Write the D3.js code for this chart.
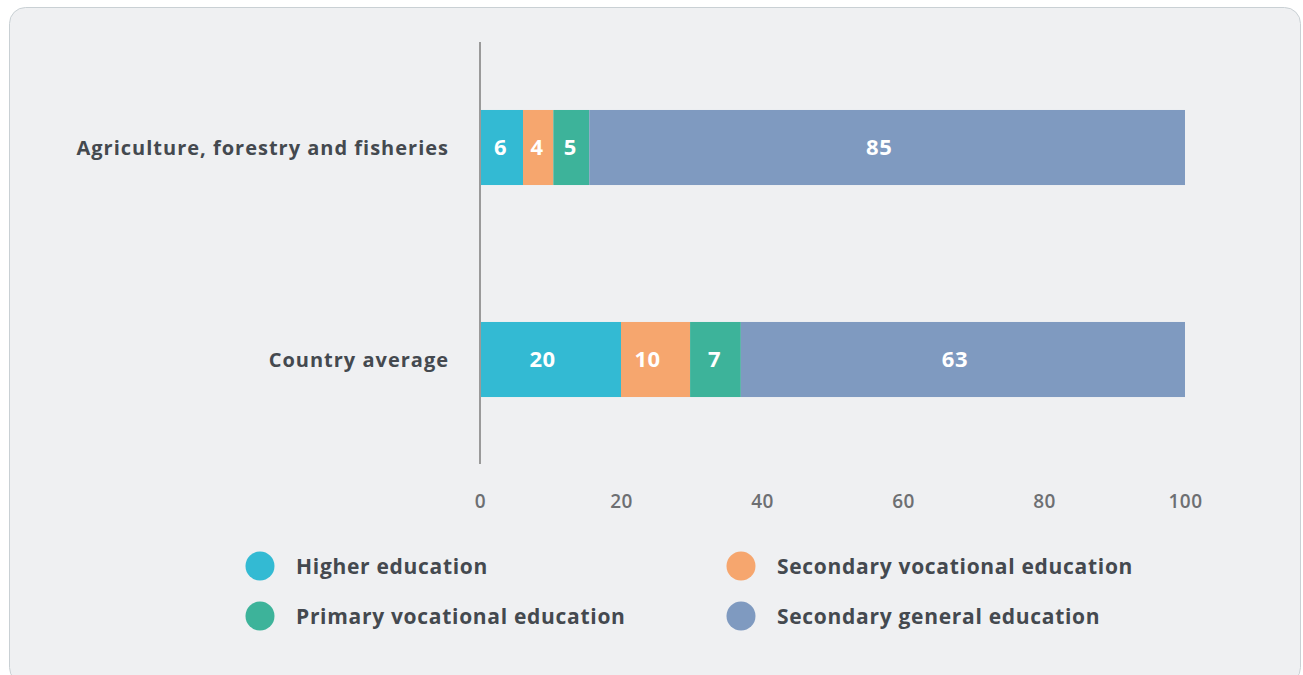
<!DOCTYPE html>
<html>
<head>
<meta charset="utf-8">
<script src="https://cdn.jsdelivr.net/npm/d3@7"></script>
<style>
  body { margin: 0; background: #ffffff; }
  svg text { font-family: "Open Sans", "DejaVu Sans", sans-serif; }
</style>
</head>
<body>
<svg id="chart" width="1303" height="675"></svg>
<script>
// data
var categories = ['Agriculture, forestry and fisheries', 'Country average'];
var seriesNames = ['Higher education', 'Secondary vocational education', 'Primary vocational education', 'Secondary general education'];
var higherEd = [6.1, 20];
var secVocational = [4.3, 9.8];
var primVocational = [5.1, 7.2];
var secGeneral = [84.5, 63];
var tickValues = [0, 20, 40, 60, 80, 100];
var colors = ['#33bad3', '#f6a66e', '#3db39a', '#7f9ac0'];

var svg = d3.select('#chart');

// card background
svg.append('rect')
    .attr('x', 9.5).attr('y', 7.5)
    .attr('width', 1291).attr('height', 676)
    .attr('rx', 16)
    .style('fill', '#eff0f2')
    .style('stroke', '#c9d0d4')
    .style('stroke-width', 1);

var x = d3.scaleLinear().domain([0, 100]).range([480, 1185]);
var y = d3.scaleBand().domain(categories).range([41.5, 465.5]).paddingInner(0.646).paddingOuter(0.323);

var rows = categories.map(function (c, i) {
    return { cat: c, s0: higherEd[i], s1: secVocational[i], s2: primVocational[i], s3: secGeneral[i] };
});
var stack = d3.stack().keys(['s0', 's1', 's2', 's3'])(rows);

var layers = svg.selectAll('g.layer')
    .data(stack)
    .enter()
    .append('g')
    .attr('class', 'layer')
    .style('fill', function (d, i) { return colors[i]; });

layers.selectAll('rect')
    .data(function (d) { return d; })
    .enter()
    .append('rect')
    .attr('x', function (d) { return x(d[0]); })
    .attr('y', function (d) { return y(d.data.cat); })
    .attr('width', function (d) { return x(d[1]) - x(d[0]); })
    .attr('height', y.bandwidth());

// value labels sit a little left of centre on the wider segments
layers.selectAll('text')
    .data(function (d) { return d; })
    .enter()
    .append('text')
    .attr('x', function (d) {
        var w = x(d[1]) - x(d[0]);
        return (x(d[0]) + x(d[1])) / 2 - (w > 60 ? 8 : 1);
    })
    .attr('y', function (d) { return y(d.data.cat) + y.bandwidth() / 2; })
    .attr('dy', '0.36em')
    .attr('text-anchor', 'middle')
    .style('fill', '#ffffff')
    .style('font-size', '22px')
    .style('font-weight', 700)
    .style('letter-spacing', '0.5px')
    .text(function (d) { return Math.round(d[1] - d[0]); });

// vertical axis line
svg.append('line')
    .attr('x1', x(0)).attr('x2', x(0))
    .attr('y1', 42).attr('y2', 464)
    .style('stroke', '#9a9a9a')
    .style('stroke-width', 2);

// category labels
svg.selectAll('text.cat')
    .data(categories)
    .enter()
    .append('text')
    .attr('class', 'cat')
    .attr('x', 449)
    .attr('y', function (d) { return y(d) + y.bandwidth() / 2; })
    .attr('dy', '0.36em')
    .attr('text-anchor', 'end')
    .style('fill', '#44494f')
    .style('font-size', '20px')
    .style('font-weight', 700)
    .style('letter-spacing', '1px')
    .text(function (d) { return d; });

// x axis ticks
var xAxis = svg.append('g')
    .attr('transform', 'translate(0,501)')
    .call(d3.axisBottom(x).tickValues(tickValues).tickSize(0).tickPadding(0));
xAxis.select('.domain').remove();
xAxis.selectAll('text')
    .attr('dy', '0.36em')
    .style('fill', '#6d6f72')
    .style('font-size', '19px')
    .style('font-weight', 600)
    .style('letter-spacing', '0.5px')
    .style('font-family', '"Open Sans", sans-serif');

// legend
var legendPos = [[260, 566], [741, 566], [260, 616], [741, 616]];
var legend = svg.selectAll('g.legend')
    .data(seriesNames)
    .enter()
    .append('g')
    .attr('class', 'legend')
    .attr('transform', function (d, i) { return 'translate(' + legendPos[i][0] + ',' + legendPos[i][1] + ')'; });
legend.append('circle')
    .attr('r', 14.5)
    .style('fill', function (d, i) { return colors[i]; });
legend.append('text')
    .attr('x', 36)
    .attr('dy', '0.36em')
    .style('fill', '#44494f')
    .style('font-size', '21px')
    .style('font-weight', 700)
    .style('letter-spacing', '0.7px')
    .text(function (d) { return d; });
</script>
</body>
</html>
